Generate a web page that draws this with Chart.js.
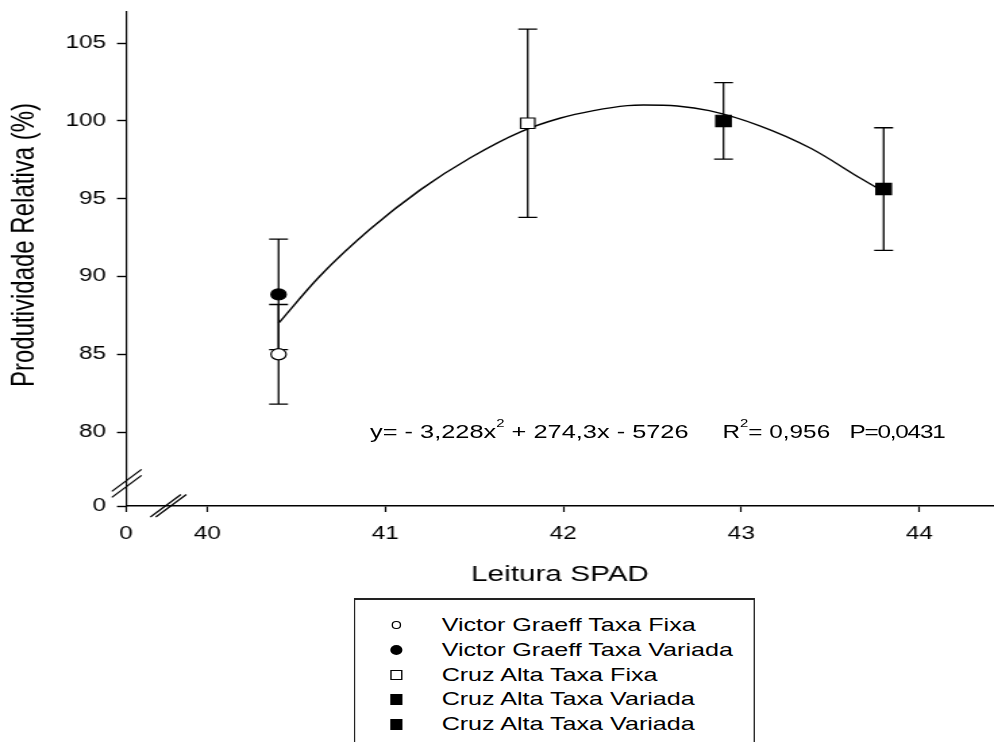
<!DOCTYPE html>
<html>
<head>
<meta charset="utf-8">
<script src="https://cdn.jsdelivr.net/npm/chart.js@4.4.1/dist/chart.umd.min.js"></script>
<style>
html,body{margin:0;padding:0;background:#fff;overflow:hidden;width:994px;height:742px;}
#stage{position:absolute;left:0;top:0;width:736px;height:742px;transform:scaleX(1.35054);transform-origin:0 0;overflow:hidden;
  font-family:"Liberation Sans",Arial,Helvetica,sans-serif;color:#000;background:#fff;}
#c{position:absolute;left:0;top:0;}
#legend{position:absolute;left:262px;top:598px;width:297px;height:220px;border-style:solid;border-color:#222;
  border-width:2px 1.5px 2px 1.5px;box-sizing:border-box;background:#fff;}
.row{position:absolute;left:0;height:24px;width:290px;font-size:18.6px;line-height:24px;white-space:nowrap;}
.row .txt{position:absolute;left:64px;top:0;}
.row .mk{position:absolute;box-sizing:border-box;}
#eq{position:absolute;top:420px;left:0;width:736px;height:24px;font-size:18px;line-height:24px;white-space:nowrap;}
#eq span{position:absolute;top:0;}
#eq sup{font-size:11px;position:relative;top:-2px;vertical-align:top;line-height:11px;}
</style>
</head>
<body>
<div id="stage">
  <canvas id="c" width="736" height="742"></canvas>
  <div id="eq">
    <span style="left:274px;font-size:18.8px">y= - 3,228x<sup>2</sup> + 274,3x - 5726</span>
    <span style="left:535px">R<sup>2</sup>= 0,956</span>
    <span style="left:629px;letter-spacing:-0.9px">P=0,0431</span>
  </div>
  <div id="legend"></div>
</div>
<script>
// ---- data ----
const seriesNames = ["Victor Graeff Taxa Fixa", "Victor Graeff Taxa Variada", "Cruz Alta Taxa Fixa", "Cruz Alta Taxa Variada", "Cruz Alta Taxa Variada"];
const seriesX   = [40.4, 40.4, 41.8, 42.9, 43.8];
const seriesY   = [85.0, 88.85, 99.85, 100.0, 95.62];
const seriesErr = [3.2, 3.55, 6.05, 2.46, 3.94];

// fitted curve
const curveX = [40.40, 40.63, 40.91, 41.20, 41.48, 41.76, 41.98, 42.17, 42.36, 42.45, 42.64, 42.82, 43.10, 43.39, 43.67, 43.76];
const curveY = [87.0, 90.0, 93.0, 95.6, 97.65, 99.3, 100.17, 100.66, 100.98, 101.02, 100.96, 100.66, 99.7, 98.24, 96.31, 95.71];

// axis ticks (broken axes: "0" shown just before the break)
const xTickValues = [39.543, 40, 41, 42, 43, 44];
const xTickLabels = ["0", "40", "41", "42", "43", "44"];
const yTickValues = [75.25, 80, 85, 90, 95, 100, 105];
const yTickLabels = ["0", "80", "85", "90", "95", "100", "105"];

const xTitle = "Leitura SPAD";
const yTitle = "Produtividade Relativa (%)";

// ---- styles ----
const markerStyles = [
  {pointStyle:'circle', radius:5.6, fill:'#fff'},
  {pointStyle:'circle', radius:5.6, fill:'#000'},
  {pointStyle:'rect',   radius:7.4, fill:'#fff'},
  {pointStyle:'rect',   radius:8.0, fill:'#000'},
  {pointStyle:'rect',   radius:8.0, fill:'#000'}
];

const FONT = "'Liberation Sans', Arial, Helvetica, sans-serif";
Chart.defaults.font.family = FONT;
Chart.defaults.color = '#000';

const datasets = seriesNames.map((name, i) => ({
  label: name,
  data: [{x: seriesX[i], y: seriesY[i]}],
  pointStyle: markerStyles[i].pointStyle,
  pointRadius: markerStyles[i].radius,
  pointBackgroundColor: markerStyles[i].fill,
  pointBorderColor: '#000',
  pointBorderWidth: 1.2,
  showLine: false,
  order: 0
}));
datasets.push({
  label: 'ajuste',
  data: curveX.map((x, i) => ({x, y: curveY[i]})),
  showLine: true,
  borderColor: '#000',
  borderWidth: 1.4,
  pointRadius: 0,
  cubicInterpolationMode: 'monotone',
  fill: false,
  order: 10
});

const errorBars = {
  id: 'errorBars',
  beforeDatasetsDraw(chart) {
    const {ctx, scales: {x, y}} = chart;
    const cap = 7;
    ctx.save();
    ctx.strokeStyle = '#000';
    ctx.lineWidth = 1.3;
    seriesX.forEach((vx, i) => {
      const px = x.getPixelForValue(vx);
      const top = y.getPixelForValue(seriesY[i] + seriesErr[i]);
      const bot = y.getPixelForValue(seriesY[i] - seriesErr[i]);
      ctx.beginPath();
      ctx.moveTo(px, top); ctx.lineTo(px, bot);
      ctx.moveTo(px - cap, top); ctx.lineTo(px + cap, top);
      ctx.moveTo(px - cap, bot); ctx.lineTo(px + cap, bot);
      ctx.stroke();
    });
    ctx.restore();
  }
};

const axisBreaks = {
  id: 'axisBreaks',
  afterDraw(chart) {
    const {ctx, scales: {x, y}, chartArea} = chart;
    ctx.save();
    ctx.strokeStyle = '#000';
    ctx.lineWidth = 1.2;
    // y-axis break (between "0" and 80)
    const y0 = y.getPixelForValue(yTickValues[0]);
    const y1 = y.getPixelForValue(yTickValues[1]);
    const by = y0 - (y0 - y1) * 0.307;
    const bx = chartArea.left;
    [-3, 3].forEach(off => {
      ctx.beginPath();
      ctx.moveTo(bx - 10.5, by + off + 11);
      ctx.lineTo(bx + 11.5, by + off - 11);
      ctx.stroke();
    });
    // x-axis break (between "0" and 40)
    const x0 = x.getPixelForValue(xTickValues[0]);
    const x1 = x.getPixelForValue(xTickValues[1]);
    const cx = x0 + (x1 - x0) * 0.52;
    const cy = chartArea.bottom;
    [-2, 2].forEach(off => {
      ctx.beginPath();
      ctx.moveTo(cx + off - 11.3, cy + 11);
      ctx.lineTo(cx + off + 11.3, cy - 11.5);
      ctx.stroke();
    });
    // y-axis title, drawn as text
    ctx.save();
    ctx.translate(18.5, 245);
    ctx.rotate(-Math.PI / 2);
    ctx.font = "24px " + FONT;
    ctx.fillStyle = '#000';
    ctx.textAlign = 'center';
    ctx.textBaseline = 'middle';
    ctx.fillText(yTitle, 0, 0);
    ctx.restore();
    ctx.restore();
  }
};

function noPad(s) {
  s.paddingLeft = 0; s.paddingRight = 0; s.paddingTop = 0; s.paddingBottom = 0;
}

new Chart(document.getElementById('c'), {
  type: 'scatter',
  data: {datasets},
  plugins: [errorBars, axisBreaks],
  options: {
    responsive: false,
    animation: false,
    events: [],
    layout: {autoPadding: false, padding: {left: 0, right: 0, top: 12, bottom: 153.8}},
    plugins: {legend: {display: false}, tooltip: {enabled: false}},
    scales: {
      x: {
        type: 'linear',
        min: 39.543, max: 44.42,
        afterFit(s) { s.height = 82.2; noPad(s); },
        afterBuildTicks(s) { s.ticks = xTickValues.map(v => ({value: v})); },
        ticks: {
          autoSkip: false, maxRotation: 0, padding: 11.7,
          font: {size: 18}, color: '#000',
          callback: (v, i) => xTickLabels[i]
        },
        grid: {display: true, drawOnChartArea: false, drawTicks: true, tickLength: 6, tickColor: '#000', tickWidth: 1.2},
        border: {display: true, color: '#000', width: 1.5},
        title: {display: true, text: xTitle, font: {size: 22}, color: '#000', padding: 0}
      },
      y: {
        type: 'linear',
        min: 75.25, max: 107,
        afterFit(s) { s.width = 93.33; noPad(s); },
        afterBuildTicks(s) { s.ticks = yTickValues.map(v => ({value: v})); },
        ticks: {
          autoSkip: false, padding: 8.1,
          font: {size: 18}, color: '#000',
          callback: (v, i) => yTickLabels[i]
        },
        grid: {display: true, drawOnChartArea: false, drawTicks: true, tickLength: 6.7, tickColor: '#000', tickWidth: 1.4},
        border: {display: true, color: '#000', width: 1.2},
        title: {display: false, text: yTitle}
      }
    }
  }
});

// ---- legend (HTML, real text) ----
const legend = document.getElementById('legend');
const legendMarkers = [
  {w: 6.5, h: 7.5, r: '50%', bg: '#fff', b: 1},
  {w: 9,   h: 10,  r: '50%', bg: '#000', b: 0},
  {w: 8.5, h: 10,  r: '0',   bg: '#fff', b: 1.2},
  {w: 9.5, h: 11,  r: '0',   bg: '#000', b: 0},
  {w: 9.5, h: 11,  r: '0',   bg: '#000', b: 0}
];
seriesNames.forEach((name, i) => {
  const row = document.createElement('div');
  row.className = 'row';
  row.style.top = (13 + 24.75 * i) + 'px';
  const m = legendMarkers[i];
  const mk = document.createElement('span');
  mk.className = 'mk';
  mk.style.width = m.w + 'px';
  mk.style.height = m.h + 'px';
  mk.style.left = (30.5 - m.w / 2) + 'px';
  mk.style.top = (12 - m.h / 2) + 'px';
  mk.style.borderRadius = m.r;
  mk.style.background = m.bg;
  mk.style.border = m.b ? (m.b + 'px solid #000') : 'none';
  const t = document.createElement('span');
  t.className = 'txt';
  t.textContent = name;
  row.appendChild(mk);
  row.appendChild(t);
  legend.appendChild(row);
});
</script>
</body>
</html>
